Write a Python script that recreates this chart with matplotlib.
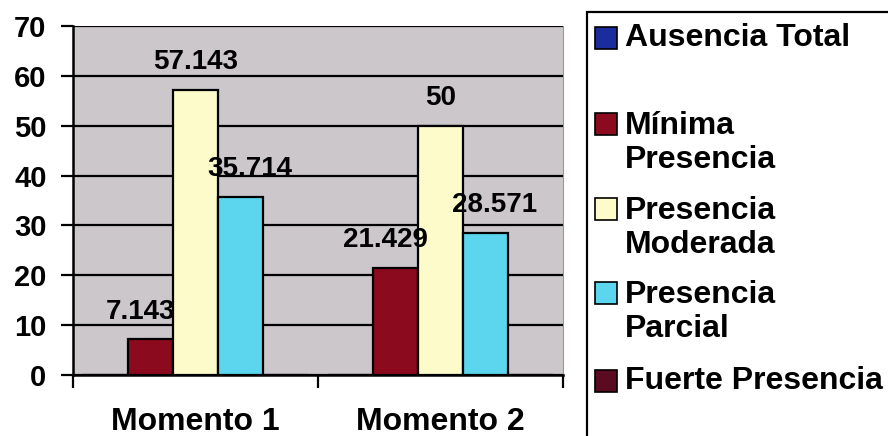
import matplotlib
matplotlib.use("Agg")
import matplotlib.pyplot as plt
from matplotlib.patches import Rectangle

plt.rcParams["font.family"] = ["Liberation Sans", "DejaVu Sans"]
plt.rcParams["font.weight"] = "bold"

# Data
momentos = ["Momento 1", "Momento 2"]
series = ["Ausencia Total", "Mínima\nPresencia", "Presencia\nModerada", "Presencia\nParcial", "Fuerte Presencia"]
ausencia_total = [0, 0]
minima_presencia = [7.143, 21.429]
presencia_moderada = [57.143, 50]
presencia_parcial = [35.714, 28.571]
fuerte_presencia = [0, 0]
values = [ausencia_total, minima_presencia, presencia_moderada, presencia_parcial, fuerte_presencia]
y_ticks = [0, 10, 20, 30, 40, 50, 60, 70]

colors = ["#1b2c9c", "#8c0a1e", "#fdfbc9", "#5cd6ee", "#5a0b22"]
label_dx = [0, -10, 0, 9, 0]  # horizontal label shift in pixels per series

fig = plt.figure(figsize=(8.88, 4.36), dpi=100)
ax = fig.add_axes([73 / 888, 61 / 436, 490 / 888, 349 / 436])
ax.set_facecolor("#cbc7cb")

w = 0.1837
x = list(range(len(momentos)))
for i, vals in enumerate(values):
    pos = [xi + (i - 2) * w for xi in x]
    ax.bar(pos, vals, width=w, color=colors[i], edgecolor="black", linewidth=1.6, zorder=3)
    for p, v in zip(pos, vals):
        if v > 0:
            ax.annotate(f"{v:g}", (p, v), xytext=(label_dx[i] * 0.72, 20), textcoords="offset points",
                        ha="center", va="center", fontsize=20, fontweight="bold", zorder=4)

ax.set_xlim(-0.5, 1.5)
ax.set_ylim(0, 70)
ax.set_yticks(y_ticks)
ax.yaxis.grid(True, color="black", linewidth=1.6, zorder=1)
ax.set_axisbelow(True)

ax.set_xticks([-0.5, 0.5, 1.5])
ax.set_xticklabels([])
ax.set_xticks(x, minor=True)
ax.set_xticklabels(momentos, minor=True)
ax.tick_params(axis="x", which="major", direction="out", length=9, width=1.6)
ax.tick_params(axis="x", which="minor", length=0, pad=23, labelsize=23)
ax.tick_params(axis="y", direction="out", length=9, width=1.6, pad=10, labelsize=21)

for s in ["left", "bottom"]:
    ax.spines[s].set_linewidth(1.8)
ax.spines["top"].set_visible(False)
ax.spines["right"].set_color("#9a969a")

# Legend box
fig.patches.append(Rectangle((587 / 888, -0.1), 0.5, (424 / 436) + 0.1, transform=fig.transFigure,
                             facecolor="white", edgecolor="black", linewidth=1.6))
legend_y = [38, 143, 228, 312, 381]
for name, c, yy in zip(series, colors, legend_y):
    lines = name.split("\n")
    top_line_y = yy - (len(lines) - 1) * 19
    fig.patches.append(Rectangle((595 / 888, 1 - (top_line_y + 11) / 436), 22 / 888, 22 / 436,
                                 transform=fig.transFigure, facecolor=c, edgecolor="black", linewidth=1.2))
    fig.text(625 / 888, 1 - yy / 436, name, ha="left", va="center", fontsize=23, fontweight="bold",
             linespacing=1.15)

fig.savefig("out.png", dpi=100)
